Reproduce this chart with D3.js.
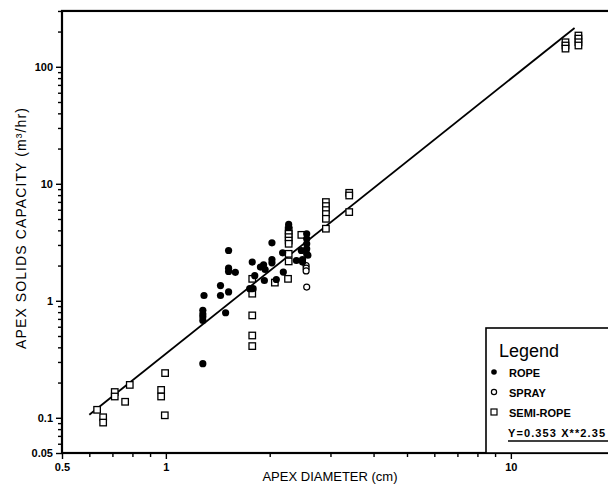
<!DOCTYPE html>
<html>
<head>
<meta charset="utf-8">
<script src="https://cdn.jsdelivr.net/npm/d3@7"></script>
<style>
  html, body { margin: 0; padding: 0; background: #fff; }
  svg { display: block; }
  text { font-family: "Liberation Sans", Arial, sans-serif; fill: #000; }
</style>
</head>
<body>
<svg id="chart" width="608" height="486"></svg>
<script>
// Apex diameter (cm) vs apex solids capacity (m^3/hr)
const ropeX = [1.28, 1.29, 1.28, 1.28, 1.28, 1.28, 1.44, 1.44, 1.52, 1.52, 1.52, 1.59, 1.52, 1.49,
  1.75, 1.79, 1.78, 1.81, 1.88, 1.92, 1.94, 1.93, 2.03, 2.03, 2.03, 2.09, 2.18, 2.19, 2.27, 2.27,
  2.39, 2.49, 2.49, 2.56, 2.56, 2.56, 2.56, 2.56, 2.47, 2.58];
const ropeY = [0.29, 1.11, 0.83, 0.77, 0.73, 0.68, 1.35, 1.11, 2.69, 1.90, 1.78, 1.75, 1.19, 0.79,
  1.27, 1.27, 2.14, 1.64, 1.94, 2.03, 1.85, 1.49, 3.13, 2.25, 2.11, 1.52, 2.57, 1.76, 4.49, 4.26,
  2.21, 2.25, 2.14, 3.74, 3.39, 3.07, 2.78, 2.52, 2.69, 2.45];

const sprayX = [2.56, 2.55, 2.55, 2.55];
const sprayY = [1.31, 2.00, 1.90, 1.80];

const semiX = [0.632, 0.658, 0.658, 0.711, 0.711, 0.762, 0.786, 0.995, 0.969, 0.969, 0.993,
  1.78, 1.78, 1.78, 1.78, 1.78, 2.07, 2.26, 2.27, 2.27, 2.27, 2.27, 2.27, 2.27, 2.27, 2.47,
  2.91, 2.91, 2.91, 2.91, 2.91, 2.91, 3.40, 3.40, 3.40,
  14.4, 14.4, 14.4, 15.7, 15.7, 15.7, 15.7];
const semiY = [0.117, 0.101, 0.091, 0.166, 0.152, 0.137, 0.191, 0.241, 0.173, 0.152, 0.105,
  1.54, 1.15, 0.75, 0.505, 0.41, 1.43, 1.54, 3.99, 3.74, 3.50, 3.27, 3.07, 2.52, 2.17, 3.66,
  6.98, 6.45, 5.96, 5.51, 5.02, 4.13, 8.37, 7.94, 5.73,
  162, 152, 143, 185, 174, 162, 152];

// Power-law fit Y = a * X^b over the fitted diameter range
const fitCoef = 0.353;
const fitExp = 2.35;
const fitRange = [0.6, 15.3];
const fitLabel = "Y=0.353 X**2.35";

const xDomain = [0.5, 20];
const yDomain = [0.05, 300];
const xMajor = [0.5, 1, 10];
const xMajorLabels = ["0.5", "1", "10"];
const xMinor = [0.6, 0.7, 0.8, 0.9, 2, 3, 4, 5, 6, 7, 8, 9, 20];
const yMajor = [0.05, 0.1, 1, 10, 100];
const yMajorLabels = ["0.05", "0.1", "1", "10", "100"];
const yMinor = [0.06, 0.07, 0.08, 0.09, 0.2, 0.3, 0.4, 0.5, 0.6, 0.7, 0.8, 0.9,
  2, 3, 4, 5, 6, 7, 8, 9, 20, 30, 40, 50, 60, 70, 80, 90, 200, 300];

const legendNames = ["ROPE", "SPRAY", "SEMI-ROPE"];

const svg = d3.select("#chart");
const plotLeft = 62, plotBottom = 453;
const xDecade = 345, yDecade = 117;

const x = d3.scaleLog().domain(xDomain)
  .range([plotLeft, plotLeft + Math.log10(xDomain[1] / xDomain[0]) * xDecade]);
const y = d3.scaleLog().domain(yDomain)
  .range([plotBottom, plotBottom - Math.log10(yDomain[1] / yDomain[0]) * yDecade]);

// Frame
svg.append("rect")
  .attr("x", x(xDomain[0])).attr("y", y(yDomain[1]))
  .attr("width", x(xDomain[1]) - x(xDomain[0]))
  .attr("height", y(yDomain[0]) - y(yDomain[1]))
  .attr("fill", "none").attr("stroke", "#000").attr("stroke-width", 2.2);

// Axes
function styleAxis(g) {
  g.select(".domain").remove();
  g.selectAll(".tick line").attr("stroke", "#000").attr("stroke-width", 1.4);
  g.selectAll(".tick text").attr("font-size", 11).attr("font-weight", "bold")
    .attr("font-family", "'Liberation Sans', Arial, sans-serif");
}
svg.append("g").attr("transform", `translate(0,${plotBottom})`)
  .call(d3.axisBottom(x).tickValues(xMinor).tickSize(4).tickFormat(""))
  .call(styleAxis);
svg.append("g").attr("transform", `translate(0,${plotBottom})`)
  .call(d3.axisBottom(x).tickValues(xMajor).tickSize(6).tickPadding(4)
    .tickFormat((d, i) => xMajorLabels[i]))
  .call(styleAxis);
svg.append("g").attr("transform", `translate(${plotLeft},0)`)
  .call(d3.axisLeft(y).tickValues(yMinor).tickSize(4).tickFormat(""))
  .call(styleAxis);
svg.append("g").attr("transform", `translate(${plotLeft},0)`)
  .call(d3.axisLeft(y).tickValues(yMajor).tickSize(6).tickPadding(3)
    .tickFormat((d, i) => yMajorLabels[i]))
  .call(styleAxis);

// Axis titles
svg.append("text").attr("x", 330).attr("y", 481)
  .attr("text-anchor", "middle").attr("font-size", 13)
  .text("APEX DIAMETER (cm)");
svg.append("text")
  .attr("transform", `translate(26,228) rotate(-90)`)
  .attr("text-anchor", "middle").attr("font-size", 14)
  .attr("letter-spacing", 1.1)
  .text("APEX SOLIDS CAPACITY  (m³/hr)");

// Fit line
svg.append("line")
  .attr("x1", x(fitRange[0])).attr("y1", y(fitCoef * Math.pow(fitRange[0], fitExp)))
  .attr("x2", x(fitRange[1])).attr("y2", y(fitCoef * Math.pow(fitRange[1], fitExp)))
  .attr("stroke", "#000").attr("stroke-width", 1.8);

// Markers
const sq = 6.5;
svg.append("g").selectAll("rect").data(d3.range(semiX.length)).join("rect")
  .attr("x", i => x(semiX[i]) - sq / 2).attr("y", i => y(semiY[i]) - sq / 2)
  .attr("width", sq).attr("height", sq)
  .attr("fill", "#fff").attr("stroke", "#000").attr("stroke-width", 1.3);
svg.append("g").selectAll("circle").data(d3.range(sprayX.length)).join("circle")
  .attr("cx", i => x(sprayX[i])).attr("cy", i => y(sprayY[i])).attr("r", 3)
  .attr("fill", "#fff").attr("stroke", "#000").attr("stroke-width", 1.2);
svg.append("g").selectAll("circle").data(d3.range(ropeX.length)).join("circle")
  .attr("cx", i => x(ropeX[i])).attr("cy", i => y(ropeY[i])).attr("r", 3.6)
  .attr("fill", "#000");

// Legend
const lg = svg.append("g");
lg.append("rect").attr("x", 486).attr("y", 328).attr("width", 140).attr("height", plotBottom - 328)
  .attr("fill", "#fff").attr("stroke", "#000").attr("stroke-width", 1.6);
lg.append("text").attr("x", 499).attr("y", 357).attr("font-size", 18).text("Legend");
const rowY = [372, 392, 412];
lg.append("circle").attr("cx", 494).attr("cy", rowY[0]).attr("r", 2.8).attr("fill", "#000");
lg.append("circle").attr("cx", 494).attr("cy", rowY[1]).attr("r", 2.6)
  .attr("fill", "#fff").attr("stroke", "#000").attr("stroke-width", 1.2);
lg.append("rect").attr("x", 491).attr("y", rowY[2] - 3).attr("width", 6).attr("height", 6)
  .attr("fill", "#fff").attr("stroke", "#000").attr("stroke-width", 1.2);
legendNames.forEach((name, i) => {
  lg.append("text").attr("x", 509).attr("y", rowY[i] + 4.5)
    .attr("font-size", 11).attr("font-weight", "bold").text(name);
});
lg.append("text").attr("x", 508).attr("y", 436.5)
  .attr("font-size", 11).attr("font-weight", "bold").attr("letter-spacing", 1.1).text(fitLabel);
lg.append("line").attr("x1", 508).attr("x2", 620).attr("y1", 441).attr("y2", 441)
  .attr("stroke", "#000").attr("stroke-width", 1.3);
</script>
</body>
</html>
